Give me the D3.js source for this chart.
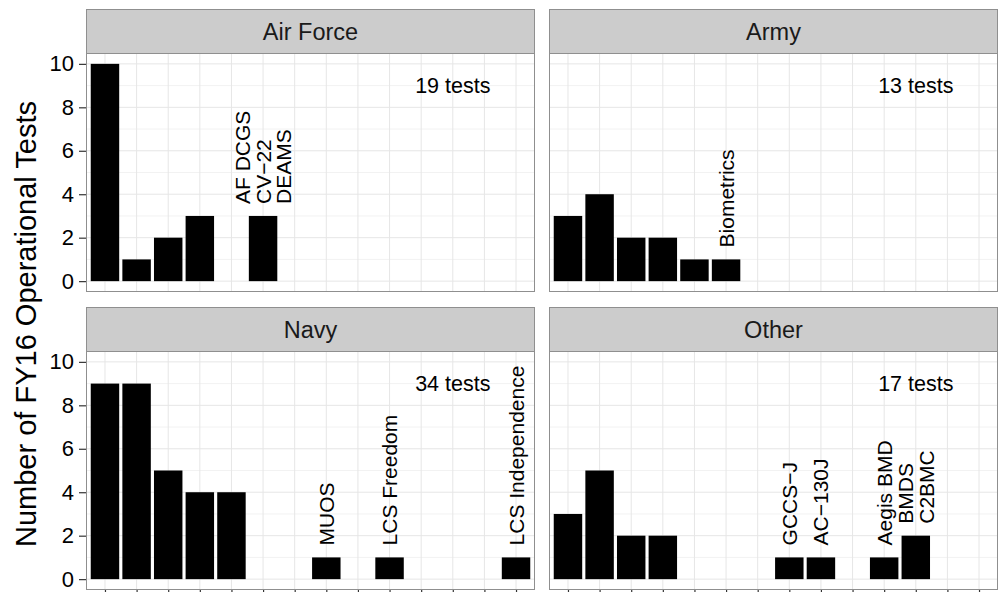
<!DOCTYPE html>
<html>
<head>
<meta charset="utf-8">
<script src="https://cdn.jsdelivr.net/npm/d3@7"></script>
<style>
  html, body { margin: 0; padding: 0; background: #fff; }
  svg { display: block; font-family: "Liberation Sans", Arial, Helvetica, sans-serif; }
</style>
</head>
<body>
<svg id="chart" width="1001" height="592"></svg>
<script>
// ---------------- data ----------------
const services = ["Air Force", "Army", "Navy", "Other"];
const xCategories = [1, 2, 3, 4, 5, 6, 7, 8, 9, 10, 11, 12, 13, 14];
const yTicks = [0, 2, 4, 6, 8, 10];
const yMinorTicks = [1, 3, 5, 7, 9];

const airForceValues = [10, 1, 2, 3, 0, 3, 0, 0, 0, 0, 0, 0, 0, 0];
const armyValues     = [3, 4, 2, 2, 1, 1, 0, 0, 0, 0, 0, 0, 0, 0];
const navyValues     = [9, 9, 5, 4, 4, 0, 0, 1, 0, 1, 0, 0, 0, 1];
const otherValues    = [3, 5, 2, 2, 0, 0, 0, 1, 1, 0, 1, 2, 0, 0];

const airForceLabels = ["", "", "", "", "", "AF DCGS\nCV\u221222\nDEAMS", "", "", "", "", "", "", "", ""];
const armyLabels     = ["", "", "", "", "", "Biometrics", "", "", "", "", "", "", "", ""];
const navyLabels     = ["", "", "", "", "", "", "", "MUOS", "", "LCS Freedom", "", "", "", "LCS Independence"];
const otherLabels    = ["", "", "", "", "", "", "", "GCCS\u2212J", "AC\u2212130J", "", "Aegis BMD", "BMDS\nC2BMC", "", ""];

const totalLabels = ["19 tests", "13 tests", "34 tests", "17 tests"];
const yAxisTitle = "Number of FY16 Operational Tests";

const seriesValues = [airForceValues, armyValues, navyValues, otherValues];
const seriesLabels = [airForceLabels, armyLabels, navyLabels, otherLabels];

// ---------------- layout ----------------
const svg = d3.select("#chart");
const colLeft = [86, 549];
const panelW = 449;
const stripTop = [9, 307];
const stripH = 44;
const panelH = 239;

const x = d3.scalePoint().domain(xCategories).range([0, panelW]).padding(0.6);
const barW = x.step() * 0.9;
const y = d3.scaleLinear().domain([-0.5, 10.5]).range([panelH, 0]);

const labelFont = 21;
const lineGap = 20.6;

services.forEach((name, i) => {
  const col = i % 2, row = Math.floor(i / 2);
  const left = colLeft[col];
  const sTop = stripTop[row];
  const pTop = sTop + stripH;

  // strip
  const strip = svg.append("g").attr("transform", `translate(${left},${sTop})`);
  strip.append("rect").attr("x", 0.5).attr("y", 0.5).attr("width", panelW - 1).attr("height", stripH)
    .attr("fill", "#cccccc").attr("stroke", "#8f8f8f").attr("stroke-width", 1);
  strip.append("text").attr("x", panelW / 2).attr("y", stripH / 2 + 8.5)
    .attr("text-anchor", "middle").attr("font-size", 23.5).attr("fill", "#1a1a1a").text(name);

  const g = svg.append("g").attr("transform", `translate(${left},${pTop})`);
  g.append("rect").attr("width", panelW).attr("height", panelH).attr("fill", "#fff");

  // minor grid
  g.selectAll("line.minor").data(yMinorTicks).join("line")
    .attr("x1", 0).attr("x2", panelW)
    .attr("y1", d => y(d)).attr("y2", d => y(d))
    .attr("stroke", "#f2f2f2").attr("stroke-width", 1);
  // major grid
  g.selectAll("line.majy").data(yTicks).join("line")
    .attr("x1", 0).attr("x2", panelW)
    .attr("y1", d => y(d)).attr("y2", d => y(d))
    .attr("stroke", "#e6e6e6").attr("stroke-width", 1);
  g.selectAll("line.majx").data(xCategories).join("line")
    .attr("y1", 0).attr("y2", panelH)
    .attr("x1", d => x(d)).attr("x2", d => x(d))
    .attr("stroke", "#e6e6e6").attr("stroke-width", 1);

  const vals = seriesValues[i];
  const bars = xCategories.map((c, k) => ({ c, v: vals[k], label: seriesLabels[i][k] }));

  g.selectAll("rect.bar").data(bars.filter(d => d.v > 0)).join("rect")
    .attr("class", "bar")
    .attr("x", d => x(d.c) - barW / 2)
    .attr("width", barW)
    .attr("y", d => y(d.v))
    .attr("height", d => y(0) - y(d.v))
    .attr("fill", "#000");

  // rotated labels
  bars.filter(d => d.label).forEach(d => {
    const lines = d.label.split("\n");
    const n = lines.length;
    const t = g.append("text")
      .attr("transform", `translate(${x(d.c)},${y(d.v + 0.55)}) rotate(-90)`)
      .attr("font-size", labelFont).attr("fill", "#000").attr("text-anchor", "start");
    lines.forEach((ln, k) => {
      t.append("tspan").attr("x", 0)
        .attr("y", (k - (n - 1) / 2) * lineGap + 0.36 * labelFont)
        .text(ln);
    });
  });

  // total label
  g.append("text").attr("x", x(12)).attr("y", y(9) + 7.5)
    .attr("text-anchor", "middle").attr("font-size", 21.5).attr("fill", "#000")
    .text(totalLabels[i]);

  // border
  g.append("rect").attr("x", 0.5).attr("y", 0.5).attr("width", panelW - 1).attr("height", panelH - 1)
    .attr("fill", "none").attr("stroke", "#8f8f8f").attr("stroke-width", 1);

  // y axis on left column
  if (col === 0) {
    const ax = g.append("g").call(d3.axisLeft(y).tickValues(yTicks).tickSize(7).tickPadding(5));
    ax.select(".domain").remove();
    ax.selectAll(".tick line").attr("stroke", "#333").attr("stroke-width", 1.2);
    ax.selectAll(".tick text").attr("font-size", 22).attr("fill", "#000")
      .attr("font-family", "Liberation Sans, Arial, sans-serif");
  }
  // x axis on bottom row
  if (row === 1) {
    const ax = g.append("g").attr("transform", `translate(0,${panelH})`)
      .call(d3.axisBottom(x).tickSize(7).tickFormat(() => ""));
    ax.select(".domain").remove();
    ax.selectAll(".tick line").attr("stroke", "#333").attr("stroke-width", 1.2);
  }
});

// y axis title
svg.append("text")
  .attr("transform", `translate(36,324) rotate(-90)`)
  .attr("text-anchor", "middle").attr("font-size", 29).attr("fill", "#000")
  .text(yAxisTitle);
</script>
</body>
</html>
